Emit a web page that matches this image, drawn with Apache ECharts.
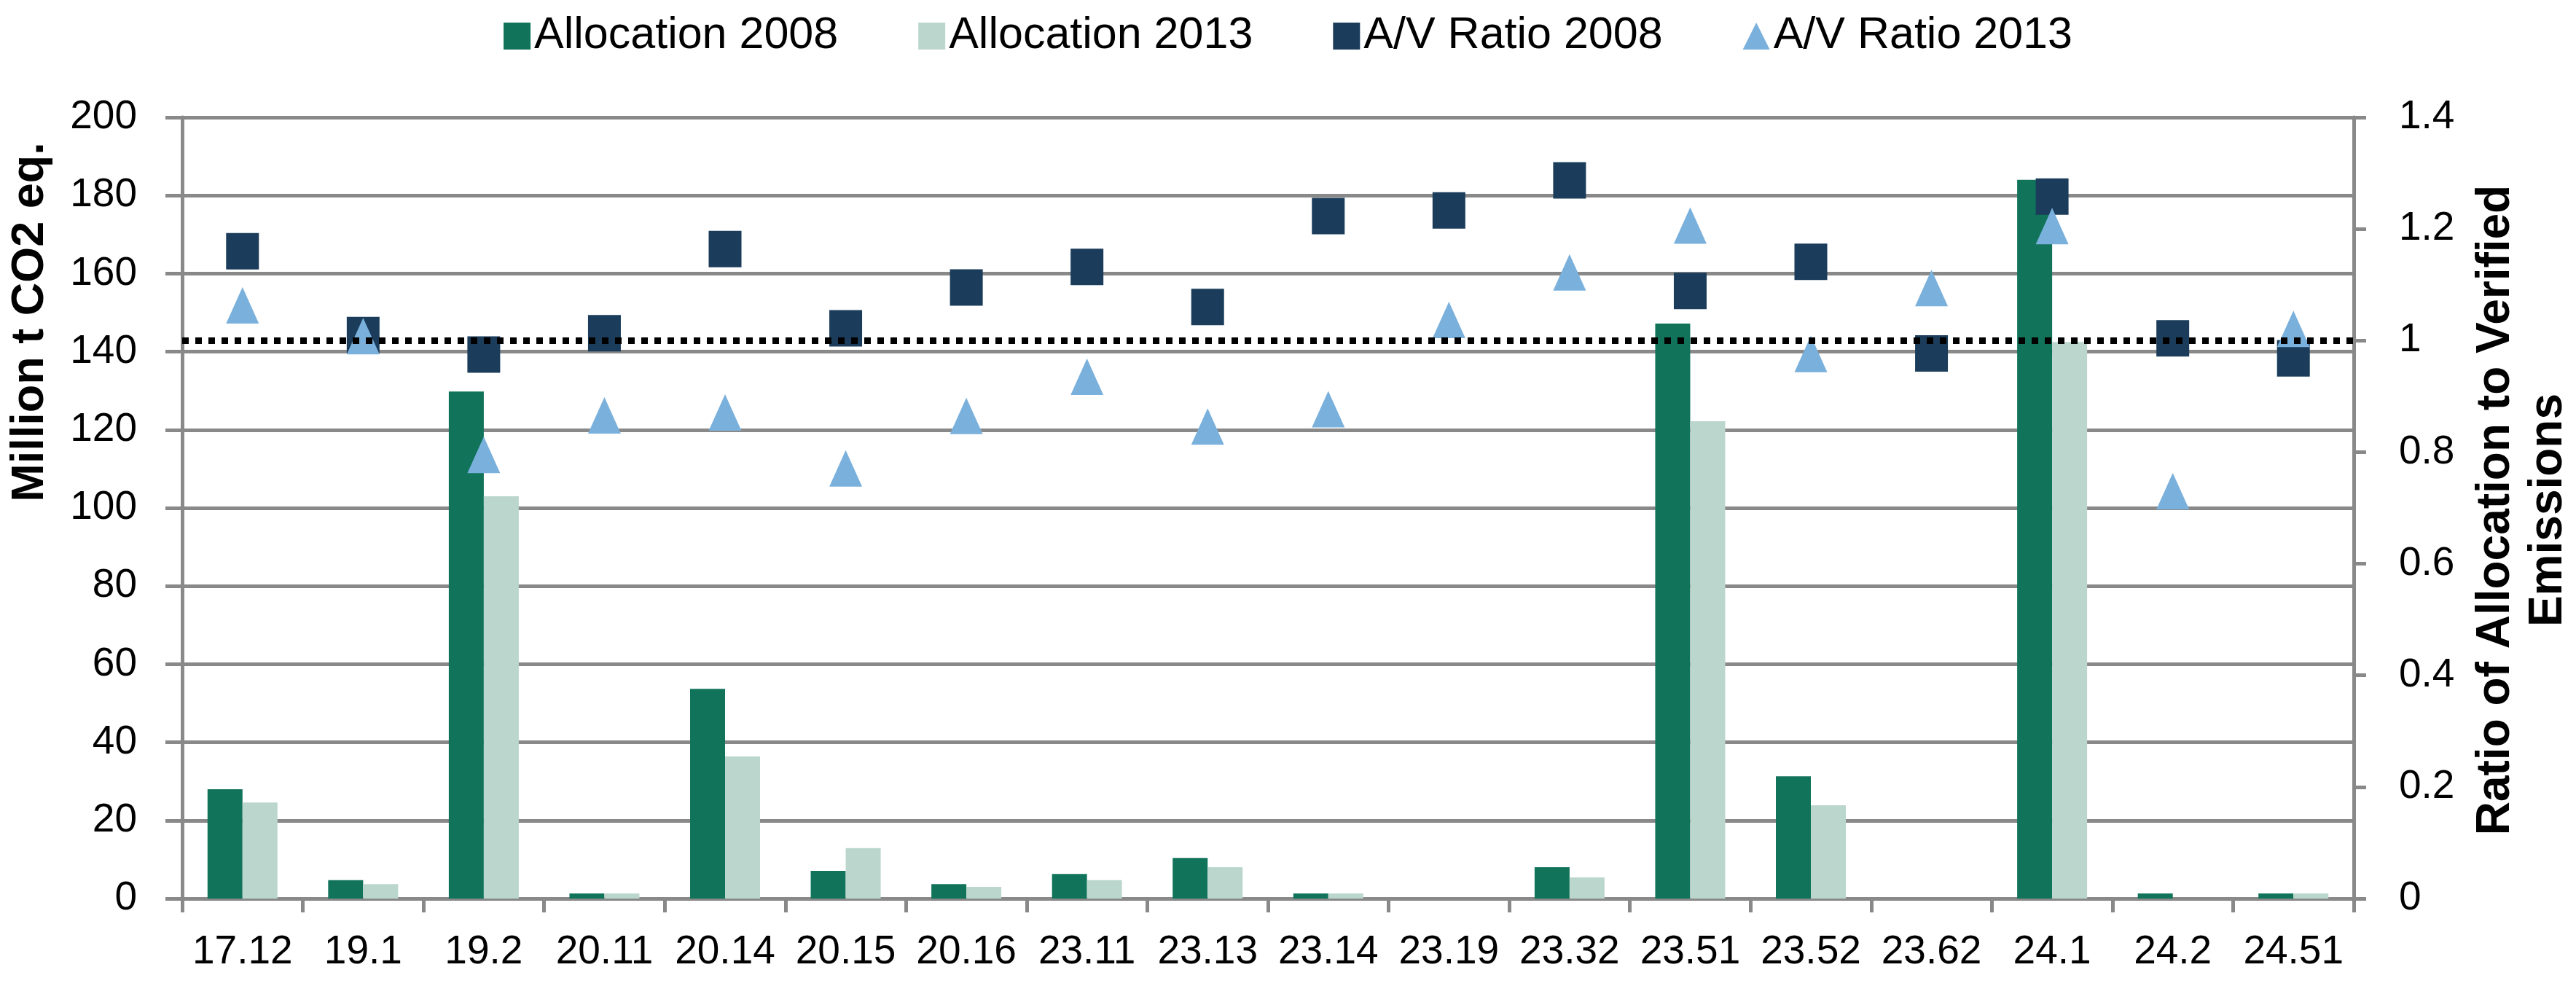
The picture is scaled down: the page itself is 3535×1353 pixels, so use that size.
<!DOCTYPE html>
<html>
<head>
<meta charset="utf-8">
<script src="https://cdn.jsdelivr.net/npm/echarts@6/dist/echarts.min.js"></script>
<style>
  html, body { margin: 0; padding: 0; background: #ffffff; }
  #chart { width: 3535px; height: 1353px; }
</style>
</head>
<body>
<div id="chart"></div>
<script>
const categories = ['17.12','19.1','19.2','20.11','20.14','20.15','20.16','23.11','23.13','23.14','23.19','23.32','23.51','23.52','23.62','24.1','24.2','24.51'];
const alloc2008 = [28.0, 4.7, 129.8, 1.3, 53.7, 7.1, 3.7, 6.3, 10.4, 1.3, null, 8.0, 147.2, 31.3, null, 184.0, 1.3, 1.3];
const alloc2013 = [24.6, 3.7, 103.0, 1.3, 36.4, 12.9, 3.0, 4.7, 8.0, 1.3, null, 5.4, 122.2, 23.9, null, 142.5, null, 1.3];
const ratio2008 = [1.160, 1.010, 0.975, 1.013, 1.164, 1.022, 1.095, 1.132, 1.060, 1.223, 1.233, 1.287, 1.089, 1.141, 0.977, 1.258, 1.004, 0.968];
const ratio2013 = [1.063, 1.008, 0.795, 0.866, 0.871, 0.771, 0.865, 0.935, 0.846, 0.877, 1.037, 1.122, 1.206, 0.976, 1.094, 1.205, 0.730, 1.021];
const leftTicks = { min: 0, max: 200, interval: 20 };
const rightTicks = { min: 0, max: 1.4, interval: 0.2 };
const referenceRatio = 1;

const FONT = "'Liberation Sans', Arial, Helvetica, sans-serif";
const GRAY = '#898989';
const C_A08 = '#10735A';
const C_A13 = '#BBD6CD';
const C_R08 = '#1B3D5B';
const C_R13 = '#7AB0DC';

const chart = echarts.init(document.getElementById('chart'), null, { renderer: 'canvas' });

const option = {
  animation: false,
  backgroundColor: '#ffffff',
  textStyle: { fontFamily: FONT, color: '#000' },
  grid: { left: 250, right: 305, top: 161, bottom: 120, containLabel: false },
  legend: {
    top: 14,
    left: 'center',
    itemWidth: 37,
    itemHeight: 37,
    itemGap: 110,
    textStyle: { fontFamily: FONT, fontSize: 61, color: '#000' },
    data: [
      { name: 'Allocation 2008', icon: 'rect' },
      { name: 'Allocation 2013', icon: 'rect' },
      { name: 'A/V Ratio 2008', icon: 'rect' },
      { name: 'A/V Ratio 2013', icon: 'triangle' }
    ]
  },
  xAxis: {
    type: 'category',
    data: categories,
    boundaryGap: true,
    axisLine: { show: true, lineStyle: { color: GRAY, width: 5 } },
    axisTick: { show: true, alignWithLabel: false, inside: false, length: 19, lineStyle: { color: GRAY, width: 5 } },
    axisLabel: { margin: 46, fontSize: 55, fontFamily: FONT, color: '#000', interval: 0 },
    splitLine: { show: false }
  },
  yAxis: [
    {
      type: 'value',
      position: 'left',
      min: leftTicks.min, max: leftTicks.max, interval: leftTicks.interval,
      axisLine: { show: true, lineStyle: { color: GRAY, width: 5 } },
      axisTick: { show: true, inside: false, length: 23, lineStyle: { color: GRAY, width: 5 } },
      axisLabel: { margin: 62, fontSize: 55, fontFamily: FONT, color: '#000' },
      splitLine: { show: true, lineStyle: { color: GRAY, width: 5 } }
    },
    {
      type: 'value',
      position: 'right',
      min: rightTicks.min, max: rightTicks.max, interval: rightTicks.interval,
      axisLine: { show: true, lineStyle: { color: GRAY, width: 5 } },
      axisTick: { show: true, inside: false, length: 17, lineStyle: { color: GRAY, width: 5 } },
      axisLabel: { margin: 62, fontSize: 55, fontFamily: FONT, color: '#000',
        formatter: function (v) { return String(Math.round(v * 10) / 10); } },
      splitLine: { show: false }
    }
  ],
  graphic: [
    {
      type: 'text',
      x: 42, y: 442,
      rotation: Math.PI / 2,
      style: {
        text: 'Million t CO2 eq.',
        font: "bold 63px " + FONT,
        fill: '#000',
        align: 'center',
        verticalAlign: 'middle'
      }
    },
    {
      type: 'text',
      x: 3461, y: 700,
      rotation: Math.PI / 2,
      style: {
        text: 'Ratio of Allocation to Verified\nEmissions',
        font: "bold 64px " + FONT,
        lineHeight: 72,
        fill: '#000',
        align: 'center',
        verticalAlign: 'middle'
      }
    }
  ],
  series: [
    {
      name: 'Allocation 2008',
      type: 'bar',
      yAxisIndex: 0,
      data: alloc2008,
      barWidth: 48,
      barGap: '0%',
      itemStyle: { color: C_A08 },
      z: 2
    },
    {
      name: 'Allocation 2013',
      type: 'bar',
      yAxisIndex: 0,
      data: alloc2013,
      barWidth: 48,
      barGap: '0%',
      itemStyle: { color: C_A13 },
      z: 2
    },
    {
      name: 'A/V Ratio 2008',
      type: 'scatter',
      yAxisIndex: 1,
      data: ratio2008,
      symbol: 'rect',
      symbolSize: [45, 50],
      itemStyle: { color: C_R08, opacity: 1 },
      z: 3,
      markLine: {
        silent: true,
        symbol: ['none', 'none'],
        label: { show: false },
        lineStyle: { color: '#000000', width: 9, type: [9, 9], opacity: 1 },
        data: [{ yAxis: referenceRatio }],
        z: 5
      }
    },
    {
      name: 'A/V Ratio 2013',
      type: 'scatter',
      yAxisIndex: 1,
      data: ratio2013,
      symbol: 'triangle',
      symbolSize: [45, 50],
      itemStyle: { color: C_R13, opacity: 1 },
      z: 4
    }
  ]
};

chart.setOption(option);
</script>
</body>
</html>
